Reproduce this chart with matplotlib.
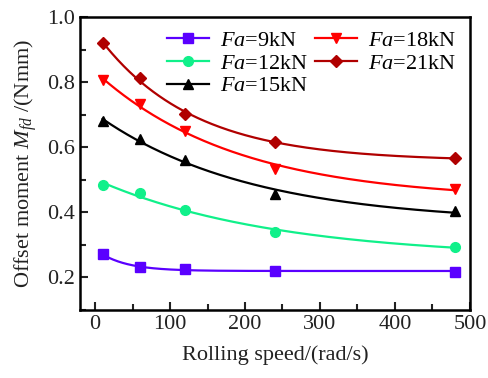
import numpy as np
import matplotlib
matplotlib.use('Agg')
import matplotlib.pyplot as plt
from matplotlib.ticker import MultipleLocator

plt.rcParams['font.family'] = ['Liberation Serif']
plt.rcParams['mathtext.fontset'] = 'custom'
plt.rcParams['mathtext.rm'] = 'Liberation Serif'
plt.rcParams['mathtext.it'] = 'Liberation Serif:italic'

# rolling speed (rad/s)
speed = [10, 60, 120, 240, 480]

fa_9 = [0.271, 0.232, 0.225, 0.221, 0.217]
fa_12 = [0.485, 0.458, 0.406, 0.340, 0.294]
fa_15 = [0.680, 0.625, 0.562, 0.455, 0.404]
fa_18 = [0.805, 0.734, 0.651, 0.534, 0.473]
fa_21 = [0.920, 0.812, 0.702, 0.615, 0.567]

labels = ['9', '12', '15', '18', '21']
colors = ['#5a00ff', '#10f08a', '#000000', '#ff0000', '#b00000']
markers = ['s', 'o', '^', 'v', 'D']


def expdec_fit(x, y):
    # y = y0 + A*exp(-x/t), grid search on t, least squares for y0, A
    x = np.asarray(x, float)
    y = np.asarray(y, float)
    best = None
    for t in np.linspace(5, 1000, 2000):
        M = np.column_stack([np.ones_like(x), np.exp(-x / t)])
        coef, res, _, _ = np.linalg.lstsq(M, y, rcond=None)
        err = np.sum((M @ coef - y) ** 2)
        if best is None or err < best[0]:
            best = (err, t, coef)
    _, t, coef = best
    return lambda xx: coef[0] + coef[1] * np.exp(-xx / t)


fig, ax = plt.subplots(figsize=(4.88, 3.78), dpi=100)
fig.subplots_adjust(left=0.164, right=0.963, bottom=0.180, top=0.955)

xs = np.linspace(10, 480, 300)
for lab, ys, c, m in zip(labels, [fa_9, fa_12, fa_15, fa_18, fa_21], colors, markers):
    f = expdec_fit(speed, ys)
    ms = 6 if m == 'D' else 7
    ax.plot(xs, f(xs), color=c, lw=1.6)
    ax.plot(speed, ys, ls='none', marker=m, color=c, ms=ms)
    ax.plot([], [], color=c, lw=1.6, marker=m, ms=ms,
            label=r'$\it{Fa}$=' + lab + 'kN')

ax.set_xlim(-20, 500)
ax.set_ylim(0.1, 1.0)
ax.xaxis.set_major_locator(MultipleLocator(100))
ax.xaxis.set_minor_locator(MultipleLocator(50))
ax.yaxis.set_major_locator(MultipleLocator(0.2))
ax.yaxis.set_minor_locator(MultipleLocator(0.1))
ax.tick_params(which='both', direction='in', width=1.5, labelsize=16, colors='#222222')
ax.tick_params(which='major', length=6)
ax.tick_params(which='minor', length=4)
for s in ax.spines.values():
    s.set_linewidth(1.8)

ax.set_xlabel('Rolling speed/(rad/s)', fontsize=16, color='#222222', labelpad=8)
ax.set_ylabel(r'Offset moment $\it{M_{fd}}$ /(Nmm)', fontsize=16, color='#222222', labelpad=6)

ax.legend(ncol=2, loc='upper right', frameon=False, fontsize=16,
          handlelength=1.9, columnspacing=0.3, handletextpad=0.5,
          labelspacing=0.1, borderaxespad=0.2)

fig.savefig('out.png', dpi=100)
